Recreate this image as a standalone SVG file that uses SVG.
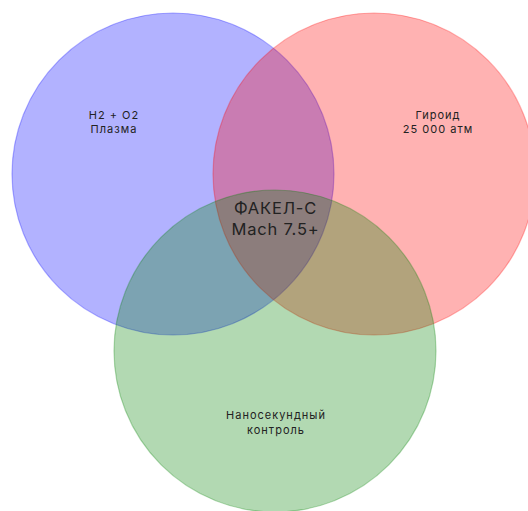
<svg xmlns="http://www.w3.org/2000/svg" width="528" height="511" viewBox="0 0 528 511">
<style>
.c{stroke-width:1.2}
.t{font-family:Inter,"Open Sans",sans-serif;font-size:11px;letter-spacing:1px;fill:#222;text-anchor:middle}
.m{font-family:Inter,"Open Sans",sans-serif;font-size:16.5px;letter-spacing:0.8px;fill:#222;text-anchor:middle}
</style>
<rect width="528" height="511" fill="#fff"/>
<g id="blue"><circle class="c" cx="173" cy="174" r="161" fill="rgba(0,0,255,0.3)" stroke="rgba(0,0,255,0.3)"/><text class="t" x="114" y="119">H2 + O2</text><text class="t" x="114" y="133">Плазма</text></g>
<g id="red"><circle class="c" cx="374" cy="174" r="161" fill="rgba(255,0,0,0.3)" stroke="rgba(255,0,0,0.3)"/><text class="t" x="438" y="119">Гироид</text><text class="t" x="438" y="133">25 000 атм</text></g>
<g id="green"><circle class="c" cx="275" cy="351" r="161" fill="rgba(0,128,0,0.3)" stroke="rgba(0,128,0,0.3)"/><text class="t" x="276" y="419">Наносекундный</text><text class="t" x="276" y="434">контроль</text></g>
<g id="center"><text class="m" x="275.5" y="214">ФАКЕЛ-С</text><text class="m" x="275.5" y="235">Mach 7.5+</text></g>
<g id="connectors"/>
</svg>
